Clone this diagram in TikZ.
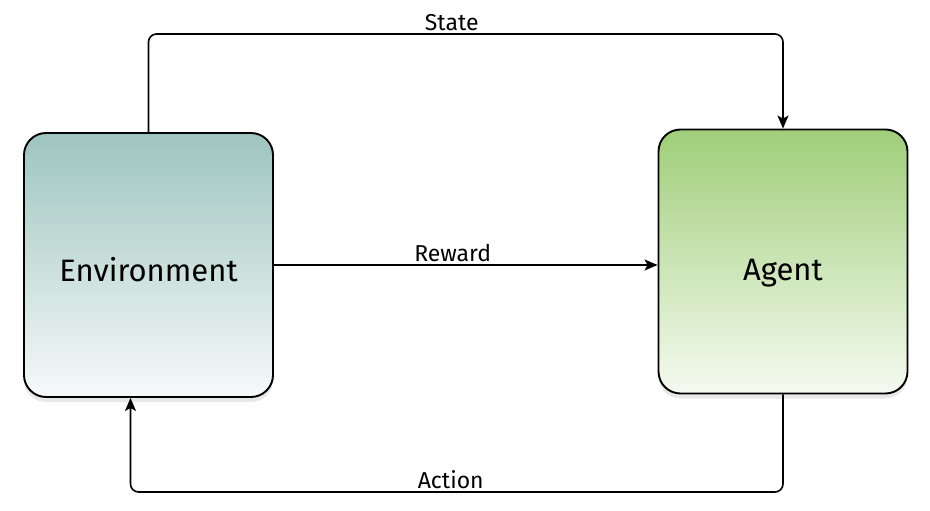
\documentclass[tikz,border=0pt]{standalone}
\usepackage{fontspec}
\setmainfont{Fira Sans}
\usetikzlibrary{positioning, calc, arrows.meta, shadows}
\definecolor{envtop}{HTML}{9EC5BE}
\definecolor{envbot}{HTML}{F6F9F9}
\definecolor{agttop}{HTML}{A0CE79}
\definecolor{agtbot}{HTML}{F5FAF0}
\tikzstyle{Arrow} = [
%connector with a filled tip:
line width=1.6pt,
rounded corners=8pt,
-{Stealth[length=13pt, width=11pt, inset=3pt]}
]

\begin{document}
\begin{tikzpicture}[x=1pt, y=-1pt,
			box/.style = {rectangle, draw, line width=1.9pt, rounded corners=22pt, text centered, minimum width=249pt, minimum height=264pt, font=\fontsize{31}{36}\selectfont, text depth=0pt, drop shadow={opacity=0.18, shadow xshift=0pt, shadow yshift=-5pt}},
			env/.style = {box, top color=envtop, bottom color=envbot, text height=32pt},
			agent/.style = {box, top color=agttop, bottom color=agtbot, text height=37pt},
			label/.style = {font=\fontsize{23}{27}\selectfont, inner sep=2pt},
		]
		\useasboundingbox (0,0) rectangle (930,511);
		\node[env](Env) at (148.5,265){Environment};
		\node[agent](Agent) at (783,261.5){Agent};

		\coordinate(Top) at (0,34);
		\coordinate(Bot) at (0,492);
		\coordinate(EnvIn) at ([xshift=-18pt]Env.south);

		\draw[Arrow](Env.north)--(Env.north |- Top)--node[midway, above, label, xshift=-14pt] {State}(Agent.north |- Top)--(Agent.north);
		\draw[Arrow](Env.east)--node[midway, above, label, xshift=-13pt] {Reward}(Env.east -| Agent.west);
		\draw[Arrow](Agent.south)--(Agent.south |- Bot)--node[midway, above, label, xshift=-6pt] {Action}(EnvIn |- Bot)--(EnvIn);

	\end{tikzpicture}
\end{document}
